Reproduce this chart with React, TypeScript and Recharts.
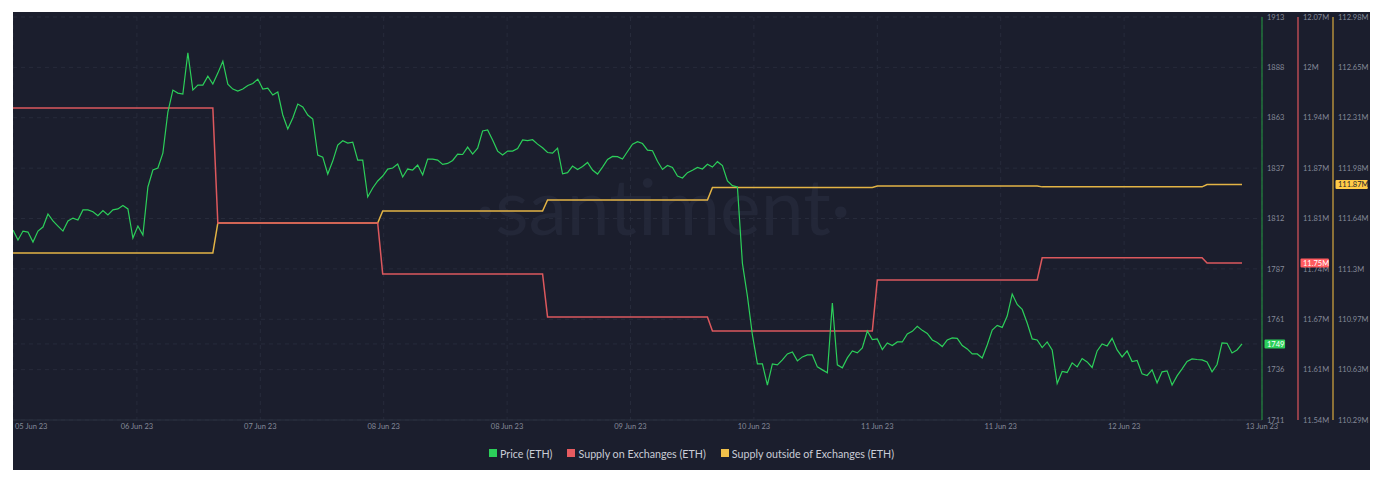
import React from 'react';
import { LineChart, Line, XAxis, YAxis, CartesianGrid, Legend } from 'recharts';

// ETH price, one sample per step (~46 min), 05 Jun 23 -> 13 Jun 23
const priceEth = [
    1806.2, 1801.2, 1805.7, 1805.2, 1800.2, 1805.7, 1807.7, 1814.3, 1810.8, 1808.2,
    1805.7, 1810.8, 1812.2, 1811.2, 1816.3, 1816.3, 1815.4, 1813.4, 1816.0, 1813.8,
    1816.3, 1816.8, 1818.5, 1816.8, 1802.2, 1808.2, 1803.7, 1827.8, 1836.3, 1837.3,
    1844.8, 1865.4, 1876.4, 1874.9, 1874.4, 1895.1, 1876.4, 1878.9, 1878.9, 1883.4,
    1879.4, 1884.9, 1890.9, 1879.4, 1876.9, 1875.9, 1876.9, 1878.7, 1879.7, 1881.9,
    1876.9, 1877.4, 1873.9, 1875.4, 1863.9, 1856.9, 1862.4, 1869.4, 1867.9, 1863.9,
    1861.9, 1843.8, 1842.8, 1834.3, 1840.8, 1848.8, 1851.0, 1849.8, 1850.3, 1841.3,
    1841.3, 1822.8, 1827.3, 1830.8, 1833.3, 1836.8, 1837.3, 1839.3, 1832.8, 1836.8,
    1836.3, 1838.8, 1833.8, 1841.8, 1841.8, 1841.3, 1839.1, 1839.6, 1841.1, 1844.3,
    1844.1, 1847.8, 1844.3, 1847.3, 1855.9, 1856.4, 1851.4, 1845.8, 1843.8, 1845.8,
    1845.8, 1847.1, 1851.4, 1851.1, 1851.5, 1849.3, 1847.5, 1845.1, 1844.8, 1847.3,
    1834.4, 1835.0, 1838.3, 1836.6, 1838.1, 1840.1, 1836.3, 1834.3, 1837.8, 1841.6,
    1843.1, 1843.0, 1841.8, 1845.6, 1849.3, 1850.5, 1849.6, 1846.3, 1846.0, 1840.7,
    1836.6, 1838.6, 1837.6, 1833.3, 1832.3, 1835.0, 1836.2, 1837.6, 1836.8, 1839.2,
    1837.8, 1840.5, 1838.5, 1830.8, 1828.5, 1827.8, 1789.5, 1773.1, 1753.6, 1739.1,
    1739.1, 1728.5, 1739.1, 1738.6, 1741.1, 1744.1, 1745.1, 1740.6, 1742.6, 1743.6,
    1743.6, 1737.6, 1736.1, 1734.6, 1769.6, 1738.6, 1737.1, 1742.1, 1745.6, 1744.6,
    1747.1, 1755.6, 1751.3, 1751.6, 1746.3, 1749.6, 1748.3, 1750.1, 1750.1, 1754.1,
    1755.4, 1757.9, 1755.9, 1754.4, 1751.1, 1749.8, 1747.8, 1751.1, 1752.1, 1751.9,
    1748.3, 1746.6, 1744.1, 1744.1, 1742.1, 1748.6, 1756.1, 1758.4, 1757.4, 1763.1,
    1774.1, 1768.9, 1766.4, 1759.6, 1751.6, 1751.1, 1747.3, 1750.1, 1746.1, 1729.3,
    1735.3, 1734.8, 1739.6, 1737.6, 1741.8, 1740.1, 1737.3, 1745.6, 1749.1, 1748.1,
    1751.9, 1746.1, 1742.6, 1745.6, 1740.3, 1740.8, 1734.1, 1733.3, 1736.1, 1729.6,
    1735.1, 1735.6, 1728.5, 1733.1, 1736.6, 1740.3, 1741.6, 1741.3, 1741.1, 1740.1,
    1735.1, 1738.8, 1749.6, 1749.4, 1744.6, 1746.1, 1749.1,
];

// daily supply values (millions of ETH) and the step where each day starts
const supplyOnExchanges = [11.9508, 11.8001, 11.7333, 11.6769, 11.6586, 11.7254, 11.7546, 11.7477];
const supplyOutsideExchanges = [111.408, 111.609, 111.689, 111.762, 111.846, 111.856, 111.85, 111.866];
const dayStarts = [0, 41, 74, 107, 140, 173, 206, 239];

const dateTicks = [0, 24.8, 49.5, 74.2, 98.9, 123.6, 148.3, 173, 197.7, 222.4, 250];
const dateLabels = [
    '05 Jun 23', '06 Jun 23', '07 Jun 23', '08 Jun 23', '08 Jun 23', '09 Jun 23',
    '10 Jun 23', '11 Jun 23', '11 Jun 23', '12 Jun 23', '13 Jun 23',
];

const priceDomain = [1710.96, 1913.04];
const priceLabels = ['1711', '1736', '1761', '1787', '1812', '1837', '1863', '1888', '1913'];
const onExDomain = [11.542, 12.07];
const onExLabels = ['11.54M', '11.61M', '11.67M', '11.74M', '11.81M', '11.87M', '11.94M', '12M', '12.07M'];
const outExDomain = [110.2927, 112.9847];
const outExLabels = ['110.29M', '110.63M', '110.97M', '111.3M', '111.64M', '111.98M', '112.31M', '112.65M', '112.98M'];

const GREEN = '#2ccf5a';
const RED = '#e65b60';
const YELLOW = '#f0c04a';
const FONT = "Lato, 'Noto Sans', sans-serif";
const TICK_GRAY = '#858a99';

const dayOf = (i: number) => {
    let d = 0;
    dayStarts.forEach((s, k) => { if (i >= s) d = k; });
    return d;
};

const data = priceEth.map((p, i) => ({
    i,
    price: p,
    onEx: supplyOnExchanges[dayOf(i)],
    outEx: supplyOutsideExchanges[dayOf(i)],
}));

const evenTicks = (d: number[]) => Array.from({ length: 9 }, (_, k) => d[0] + (k * (d[1] - d[0])) / 8);
const priceTicks = evenTicks(priceDomain);
const onExTicks = evenTicks(onExDomain);
const outExTicks = evenTicks(outExDomain);

const lastPrice = priceEth[priceEth.length - 1];
const lastOnEx = supplyOnExchanges[supplyOnExchanges.length - 1];
const lastOutEx = supplyOutsideExchanges[supplyOutsideExchanges.length - 1];

const makeTick = (ticks: number[], labels: string[], box: string, boxText: string, fmt: (v: number) => string) =>
    (props: any) => {
        const { x, y, payload } = props;
        const k = ticks.indexOf(payload.value);
        if (k >= 0) {
            return (
                <text x={x} y={y} dy="0.35em" fill={TICK_GRAY} fontSize={7.5} fontFamily={FONT}>
                    {labels[k]}
                </text>
            );
        }
        const label = fmt(payload.value);
        const w = label.length * 3.9 + 5;
        return (
            <g>
                <rect x={x - 2.5} y={y - 4.5} width={w} height={9} fill={box} rx={1} />
                <text x={x} y={y} dy="0.35em" fill={boxText} fontSize={7.5} fontFamily={FONT}>
                    {label}
                </text>
            </g>
        );
    };

const DateTick = (props: any) => {
    const { x, y, payload } = props;
    const k = dateTicks.indexOf(payload.value);
    return (
        <text
            x={k === 0 ? x + 2 : x}
            y={y}
            dy="0.71em"
            textAnchor={k === 0 ? 'start' : 'middle'}
            fill={TICK_GRAY}
            fontSize={7.5}
            fontFamily={FONT}
        >
            {dateLabels[k]}
        </text>
    );
};

const legendItems = [
    { name: 'Price (ETH)', color: GREEN },
    { name: 'Supply on Exchanges (ETH)', color: RED },
    { name: 'Supply outside of Exchanges (ETH)', color: YELLOW },
];

const renderLegend = () => (
    <div style={{ display: 'flex', justifyContent: 'center', alignItems: 'center', height: 26, marginBottom: 4, gap: 15, fontFamily: FONT, fontSize: 10.7, color: '#c9ccd6' }}>
        {legendItems.map((it) => (
            <div key={it.name} style={{ display: 'flex', alignItems: 'center' }}>
                <span style={{ width: 8, height: 8, background: it.color, display: 'inline-block', marginRight: 3 }} />
                <span>{it.name}</span>
            </div>
        ))}
    </div>
);

const App: React.FC = () => {
    return (
        <div style={{ marginLeft: 5, marginTop: 4, width: 1357, height: 458, background: '#1b1e2d', position: 'relative' }}>
            <div
                style={{
                    position: 'absolute',
                    left: 650,
                    top: 155,
                    transform: 'translateX(-50%)',
                    fontFamily: FONT,
                    fontSize: 77,
                    lineHeight: 1,
                    color: '#232738',
                    whiteSpace: 'nowrap',
                }}
            >
                ·santiment·
            </div>
            <LineChart width={1357} height={458} data={data} margin={{ top: 5, right: 0, bottom: 0, left: 0 }}>
                <CartesianGrid yAxisId="a_price" stroke="#272b3b" strokeDasharray="4 4" />
                <XAxis
                    dataKey="i"
                    type="number"
                    domain={[0, 250]}
                    ticks={dateTicks}
                    interval={0}
                    height={20}
                    tickLine={false}
                    tickSize={0}
                    tickMargin={4}
                    axisLine={{ stroke: '#2b3040' }}
                    tick={<DateTick />}
                />
                <YAxis
                    yAxisId="a_price"
                    orientation="right"
                    type="number"
                    domain={priceDomain}
                    ticks={[...priceTicks, lastPrice]}
                    interval={0}
                    width={36}
                    tickLine={false}
                    tickSize={0}
                    tickMargin={5}
                    axisLine={{ stroke: '#22893f', strokeWidth: 1.2 }}
                    tick={makeTick(priceTicks, priceLabels, GREEN, '#ffffff', (v) => String(Math.round(v)))}
                />
                <YAxis
                    yAxisId="b_onEx"
                    orientation="right"
                    type="number"
                    domain={onExDomain}
                    ticks={[...onExTicks, lastOnEx]}
                    interval={0}
                    width={35}
                    tickLine={false}
                    tickSize={0}
                    tickMargin={5}
                    axisLine={{ stroke: '#e0555c', strokeWidth: 1.2 }}
                    tick={makeTick(onExTicks, onExLabels, '#ff5b5f', '#ffffff', (v) => `${v.toFixed(2)}M`)}
                />
                <YAxis
                    yAxisId="c_outEx"
                    orientation="right"
                    type="number"
                    domain={outExDomain}
                    ticks={[...outExTicks, lastOutEx]}
                    interval={0}
                    width={37}
                    tickLine={false}
                    tickSize={0}
                    tickMargin={5}
                    axisLine={{ stroke: '#d9a93e', strokeWidth: 1.2 }}
                    tick={makeTick(outExTicks, outExLabels, '#ffcb47', '#1b1e2d', (v) => `${v.toFixed(2)}M`)}
                />
                <Legend verticalAlign="bottom" height={30} content={renderLegend} />
                <Line yAxisId="c_outEx" dataKey="outEx" type="linear" stroke="#e3b445" strokeWidth={1.5} dot={false} activeDot={false} isAnimationActive={false} />
                <Line yAxisId="b_onEx" dataKey="onEx" type="linear" stroke="#dc585d" strokeWidth={1.5} dot={false} activeDot={false} isAnimationActive={false} />
                <Line yAxisId="a_price" dataKey="price" type="linear" stroke={GREEN} strokeWidth={1.2} dot={false} activeDot={false} isAnimationActive={false} />
            </LineChart>
        </div>
    );
};

export default App;
